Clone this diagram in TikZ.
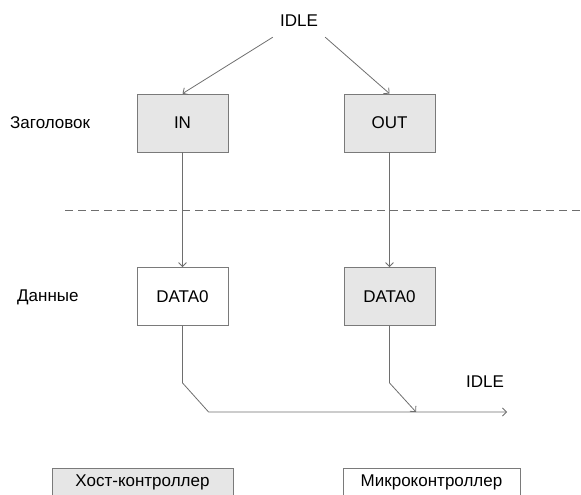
\documentclass[tikz,border=0pt]{standalone}
\usepackage{fontspec}
\setmainfont{Liberation Sans}
\usetikzlibrary{arrows.meta}
\definecolor{linegray}{HTML}{6E6E6E}
\definecolor{boxgray}{HTML}{E6E6E6}
\definecolor{framegray}{HTML}{7A7A7A}

\begin{document}
\begin{tikzpicture}[x=1pt, y=-1pt,
    txt/.style={font=\fontsize{17}{20}\selectfont, text=black},
    pkt/.style={txt, draw=framegray, line width=0.8pt, minimum width=91pt, minimum height=58pt, inner sep=0pt},
    host/.style={pkt, fill=boxgray},
    dev/.style={pkt, fill=white},
    legend/.style={txt, draw=framegray, line width=0.8pt, minimum height=28pt, inner sep=0pt},
    flow/.style={draw=linegray, line width=0.8pt, -{Straight Barb[length=4pt, width=8pt]}}]
    \useasboundingbox (0,0) rectangle (581,495);
    % states
    \node[txt, minimum width=52pt, minimum height=32pt, inner sep=0pt] (idle) at (299, 21) {IDLE};
    \node[host] (in) at (182.5, 123) {IN};
    \node[host] (out) at (389.5, 123) {OUT};
    \node[dev] (dataA) at (182.5, 296.5) {DATA0};
    \node[host] (dataB) at (389.5, 296.5) {DATA0};
    \node[txt] (idleEnd) at (485, 382) {IDLE};
    % row labels
    \node[txt, anchor=west, inner sep=0pt] (hdr) at (10, 123) {Заголовок};
    \node[txt, anchor=west, inner sep=0pt] (dat) at (17, 297) {Данные};
    % separator
    \draw[linegray, line width=0.8pt, dash pattern=on 8pt off 5pt] (65, 210) -- (581, 210);
    % transitions
    \draw[flow] (idle.south west) -- (in.north);
    \draw[flow] (idle.south east) -- (out.north);
    \draw[flow] (in.south) -- (dataA.north);
    \draw[flow] (out.south) -- (dataB.north);
    \coordinate (join) at (416, 412);
    \coordinate (exit) at (507, 412);
    \draw[flow] (dataA.south) -- ++(0, 57) -- ++(26, 29) -- (exit);
    \draw[flow] (dataB.south) -- ++(0, 57) -- (join);
    % legend
    \node[legend, fill=boxgray, minimum width=181pt] (keyHost) at (142.5, 482) {Хост-контроллер};
    \node[legend, fill=white, minimum width=177pt] (keyDev) at (431.5, 482) {Микроконтроллер};
\end{tikzpicture}
\end{document}
